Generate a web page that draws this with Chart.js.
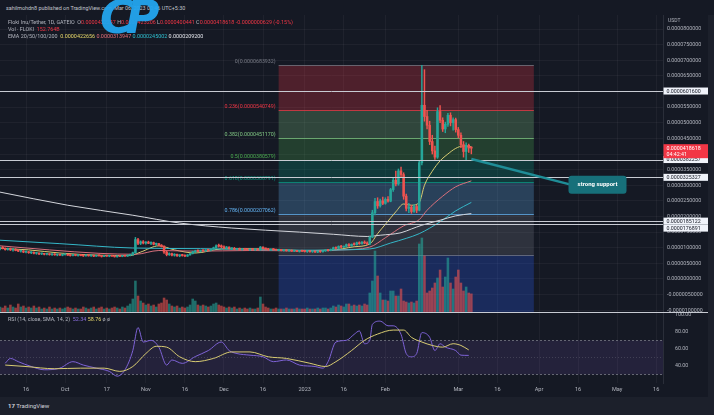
<!DOCTYPE html>
<html>
<head>
<meta charset="utf-8">
<script src="https://cdn.jsdelivr.net/npm/chart.js@4.4.0/dist/chart.umd.min.js"></script>
<style>
html, body { margin: 0; padding: 0; background: #151924; }
#wrap { position: relative; width: 714px; height: 415px; overflow: hidden; background: #151924; font-family: Roboto, "Noto Sans", sans-serif; }
#main { position: absolute; left: 0; top: 15px; }
#rsi { position: absolute; left: 0; top: 313px; }
.txt { position: absolute; white-space: nowrap; font-size: 5.4px; color: #b2b5be; line-height: 7px; }
.red { color: #f23645; }
.sep { position: absolute; left: 0; top: 312px; width: 714px; height: 1px; background: #c8cbd3; }
.foot { position: absolute; left: 0; top: 397px; width: 714px; height: 18px; background: #1c202b; }
.side { position: absolute; left: 708px; top: 15px; width: 6px; height: 382px; background: #1c202b; }
.logo { position: absolute; left: 100px; top: -10px; font: italic bold 46px "DejaVu Sans", sans-serif; color: #23a6f0; letter-spacing: -8px; opacity: 0.95; }
</style>
</head>
<body>
<div id="wrap">
  <canvas id="main" width="714" height="298"></canvas>
  <canvas id="rsi" width="714" height="84"></canvas>
  <div class="sep"></div>
  <div class="side"></div>
  <div class="foot"></div>

  <div class="txt" style="left:6px;top:5px;color:#c3c6ce">sahilmohdn8 published on TradingView.com, Mar 06, 2023 00:46 UTC+5:30</div>
  <div class="txt" style="left:8px;top:19px">Floki Inu/Tether, 1D, GATEIO&nbsp; O<span class="red">0.0000422247</span> H<span class="red">0.0000423206</span> L<span class="red">0.0000400441</span> C<span class="red">0.0000418618 -0.0000000629 (-0.15%)</span></div>
  <div class="txt" style="left:8px;top:26px">Vol · FLOKI&nbsp; <span class="red">152.764B</span></div>
  <div class="txt" style="left:8px;top:33px">EMA 20/50/100/200&nbsp; <span style="color:#e8d96a">0.0000422656</span> <span style="color:#e5707a">0.0000313947</span> <span style="color:#2fc0d0">0.0000245002</span> <span style="color:#e6e8ee">0.0000209200</span></div>
  <div class="logo">CP</div>
  <div class="txt" style="left:668px;top:17px;font-size:5px">USDT</div>
  <div class="txt" style="left:8px;top:316px">RSI (14, close, SMA, 14, 2)&nbsp; <span style="color:#8c6fe0">52.34</span> <span style="color:#e8d96a">58.76</span> ø ø</div>
  <div class="txt" style="left:8px;top:402px;font-size:6px;color:#d1d4dc"><b>17</b> TradingView</div>
</div>

<script>
// Days are counted from Sep 6 2022 (day 0), prices in millionths of USDT
const tickDays = [10, 25, 41, 56, 71, 86, 101, 117, 132, 148, 176, 191, 207, 222, 237, 252];
const tickLabels = ['16', 'Oct', '17', 'Nov', '16', 'Dec', '16', '2023', '16', 'Feb', 'Mar', '16', 'Apr', '16', 'May', '16'];

// daily candles [open, high, low, close], one per day from day 0
const ohlc = [
  [9.6,10.2,9.3,10.0],[10.0,10.4,9.6,9.8],[9.8,10.0,9.2,9.4],[9.4,9.9,9.2,9.7],[9.7,9.9,9.1,9.3],
  [9.3,9.6,8.9,9.5],[9.5,9.7,9.0,9.1],[9.1,9.4,8.7,8.9],[8.9,9.2,8.6,9.0],[9.0,9.1,8.4,8.6],
  [8.6,8.9,8.3,8.7],[8.7,8.8,8.2,8.4],[8.4,8.7,8.1,8.5],[8.5,8.7,8.0,8.2],[8.2,8.5,7.9,8.3],
  [8.3,8.4,7.8,8.0],[8.0,8.3,7.8,8.1],[8.1,8.2,7.7,7.9],[7.9,8.2,7.7,8.0],[8.0,8.1,7.6,7.8],
  [7.8,8.0,7.5,7.9],[7.9,8.1,7.6,7.7],[7.7,7.9,7.4,7.8],[7.8,8.0,7.5,7.6],[7.6,7.9,7.4,7.8],
  [7.8,8.0,7.6,7.9],[7.9,8.0,7.5,7.6],[7.6,7.8,7.3,7.5],[7.5,7.9,7.4,7.8],[7.8,7.9,7.4,7.5],
  [7.5,7.7,7.3,7.6],[7.6,7.8,7.4,7.5],[7.5,7.7,7.2,7.4],[7.4,7.8,7.3,7.7],[7.7,7.8,7.3,7.4],
  [7.4,7.6,7.2,7.5],[7.5,7.6,7.1,7.3],[7.3,7.6,7.2,7.5],[7.5,7.7,7.3,7.4],[7.4,7.5,7.0,7.2],
  [7.2,7.5,7.1,7.4],[7.4,7.6,7.2,7.3],[7.3,7.5,7.1,7.4],[7.4,7.6,7.2,7.3],[7.3,7.4,7.0,7.1],
  [7.1,7.4,7.0,7.3],[7.3,7.5,7.1,7.2],[7.2,7.5,7.1,7.4],[7.4,7.6,7.2,7.3],[7.3,7.7,7.2,7.6],
  [7.6,7.9,7.4,7.7],[7.7,8.6,7.6,8.4],[8.4,13.3,8.2,12.6],[12.6,13.0,11.0,11.4],[11.4,12.2,11.0,11.9],
  [11.9,12.3,11.2,11.5],[11.5,12.0,11.1,11.8],[11.8,12.1,11.3,11.4],[11.4,11.9,11.0,11.6],[11.6,11.8,10.9,11.1],
  [11.1,11.5,10.7,11.3],[11.3,11.4,10.6,10.8],[10.8,11.0,10.2,10.5],[10.5,10.6,8.2,8.6],[8.6,8.9,7.4,7.8],
  [7.8,8.4,7.5,8.1],[8.1,8.3,7.4,7.6],[7.6,8.1,7.3,7.9],[7.9,8.0,7.2,7.4],[7.4,7.8,7.1,7.6],
  [7.6,7.9,7.3,7.5],[7.5,7.7,7.1,7.3],[7.3,7.8,7.2,7.7],[7.7,8.2,7.6,8.1],[8.1,8.9,8.0,8.7],
  [8.7,9.2,8.4,9.0],[9.0,9.3,8.7,8.9],[8.9,9.2,8.6,9.1],[9.1,9.3,8.8,9.0],[9.0,9.4,8.8,9.3],
  [9.3,9.5,9.0,9.2],[9.2,9.6,9.0,9.5],[9.5,10.2,9.3,10.0],[10.0,10.9,9.8,10.6],[10.6,11.2,10.2,10.5],
  [10.5,10.9,10.0,10.3],[10.3,10.6,9.7,9.9],[9.9,10.4,9.6,10.2],[10.2,10.3,9.5,9.7],[9.7,10.0,9.4,9.8],
  [9.8,10.1,9.4,9.5],[9.5,9.8,9.3,9.6],[9.6,9.9,9.3,9.4],[9.4,9.7,9.2,9.6],[9.6,9.8,9.3,9.5],
  [9.5,9.7,9.2,9.3],[9.3,9.6,9.1,9.5],[9.5,9.7,9.2,9.4],[9.4,9.6,9.1,9.5],[9.5,9.7,9.2,9.3],
  [9.3,10.4,9.2,10.2],[10.2,10.3,9.5,9.7],[9.7,9.9,9.3,9.6],[9.6,9.8,9.2,9.3],[9.3,9.6,9.1,9.5],
  [9.5,9.7,9.2,9.4],[9.4,9.6,9.1,9.2],[9.2,9.5,9.0,9.4],[9.4,9.5,9.0,9.1],[9.1,9.4,8.9,9.3],
  [9.3,9.4,8.9,9.0],[9.0,9.3,8.8,9.2],[9.2,9.3,8.8,8.9],[8.9,9.2,8.7,9.1],[9.1,9.2,8.7,8.8],
  [8.8,9.1,8.6,9.0],[9.0,9.2,8.7,8.9],[8.9,9.1,8.6,8.8],[8.8,9.0,8.5,8.9],[8.9,9.1,8.6,8.7],
  [8.7,9.0,8.5,8.9],[8.9,9.0,8.5,8.6],[8.6,8.9,8.4,8.8],[8.8,9.0,8.5,8.7],[8.7,9.1,8.6,9.0],
  [9.0,9.3,8.8,9.2],[9.2,9.4,8.9,9.1],[9.1,9.6,9.0,9.5],[9.5,10.2,9.4,10.0],[10.0,10.3,9.6,9.8],
  [9.8,10.6,9.7,10.4],[10.4,10.8,10.0,10.2],[10.2,10.5,9.9,10.4],[10.4,11.2,10.2,11.0],[11.0,11.3,10.4,10.6],
  [10.6,11.2,10.4,11.1],[11.1,11.6,10.8,11.0],[11.0,11.8,10.8,11.6],[11.6,11.9,11.1,11.3],[11.3,12.0,11.1,11.8],
  [11.8,12.2,11.3,11.5],[11.5,11.9,11.0,11.2],[11.2,13.6,11.0,13.4],[13.4,22.0,13.2,21.2],[21.2,25.8,20.5,24.8],
  [24.8,26.0,22.6,23.4],[23.4,25.6,23.0,25.0],[25.0,26.2,23.8,24.2],[24.2,26.0,23.9,25.5],[25.5,26.4,24.6,24.9],
  [24.9,29.0,24.7,28.6],[28.6,32.5,28.0,31.6],[31.6,34.5,29.8,30.4],[30.4,35.2,30.0,34.6],[34.6,35.8,32.5,33.4],
  [33.4,34.0,25.5,26.5],[26.5,27.2,21.8,22.6],[22.6,24.2,21.2,23.0],[23.0,23.6,21.0,21.6],[21.6,23.8,21.3,23.2],
  [23.2,23.6,21.2,22.0],[22.0,37.8,21.8,37.2],[37.2,68.4,36.5,55.6],[55.6,67.0,50.5,52.0],[52.0,54.0,48.0,49.2],
  [49.2,50.5,43.0,44.0],[44.0,46.0,40.0,41.0],[41.0,42.5,38.3,39.0],[39.0,54.8,38.6,53.6],[53.6,55.5,50.0,50.8],
  [50.8,51.6,47.2,48.0],[48.0,50.2,46.8,49.5],[49.5,53.0,48.8,52.4],[52.4,53.2,49.0,50.0],[50.0,51.6,47.6,51.0],
  [51.0,51.5,47.0,47.8],[47.8,48.5,45.2,46.0],[46.0,46.8,42.0,43.0],[43.0,44.0,39.0,40.8],[40.8,43.6,38.0,42.8],
  [42.8,43.2,40.5,41.92],[42.22,42.32,40.04,41.86]
];

// volume per day, billions of FLOKI
const volume = [
  48,40,56,40,64,48,40,72,48,56, 40,48,40,56,40,48,32,40,32,48,
  32,40,32,40,32,40,48,40,32,40, 32,32,48,40,32,40,48,32,40,48,
  32,40,32,40,48,40,32,48,40,56, 72,112,256,136,96,80,64,72,56,64,
  48,72,80,120,104,72,56,48,56,40, 48,40,48,64,112,96,64,56,64,56,
  48,56,72,80,64,56,48,40,48,40, 48,32,40,32,40,32,40,32,32,40,
  128,72,48,40,32,32,40,32,32,32, 40,32,32,32,40,32,32,32,40,32,
  32,32,40,32,40,40,32,40,56,48, 64,56,48,72,72,56,64,56,64,56,
  72,64,160,256,496,296,160,104,104,96, 176,176,136,136,192,96,88,80,88,80,
  96,552,600,456,160,176,200,240,280,344, 208,288,440,240,192,288,344,240,176,208,
  160,153
];

const ema20Days = [0, 11, 23, 38, 50, 54, 61, 67, 75, 85, 94, 104, 115, 127, 136, 142, 145, 148, 152, 155, 158, 161, 163, 166, 169, 172, 175, 178, 181];
const ema20 = [9.8, 9.3, 8.3, 7.6, 7.5, 8.6, 10.6, 9.3, 8.3, 9.6, 9.7, 9.5, 9.1, 9.2, 10.3, 11.2, 14.5, 17.5, 21.5, 24.0, 23.6, 24.5, 30.0, 34.5, 37.8, 40.0, 41.8, 42.6, 42.27];
const ema50Days = [0, 19, 38, 52, 61, 75, 96, 115, 131, 142, 148, 155, 161, 164, 170, 175, 181];
const ema50 = [10.6, 9.3, 8.2, 7.9, 9.1, 8.9, 9.1, 9.0, 9.3, 10.2, 13.2, 17.0, 19.0, 22.0, 26.5, 29.5, 31.4];
const ema100Days = [0, 23, 51, 77, 115, 142, 150, 156, 161, 169, 175, 181];
const ema100 = [12.4, 11.3, 9.9, 9.7, 9.2, 9.6, 11.5, 13.0, 14.5, 18.3, 21.8, 24.5];
const ema200Days = [0, 26, 51, 69, 89, 115, 128, 141, 146, 154, 158, 162, 169, 175, 181];
const ema200 = [27.8, 23.6, 20.4, 17.9, 16.3, 15.0, 14.3, 13.6, 14.0, 14.8, 16.0, 17.2, 18.8, 20.2, 20.92];

const rsiDays = [2, 4, 7, 12, 17, 23, 28, 32, 37, 42, 45, 48, 51, 53, 55, 58, 61, 64, 66, 70, 75, 80, 85, 88, 91, 96, 101, 105, 110, 115, 121, 124, 126, 129, 133, 136, 138, 140, 142, 143, 146, 149, 151, 154, 156, 158, 160, 162, 165, 167, 169, 171, 175, 177, 180];
const rsi = [43.1, 48.8, 45, 39.3, 35.5, 37.4, 45, 41, 37.4, 33.6, 28, 35.5, 58, 85, 68, 70, 62, 41, 47, 43, 51, 58, 68, 58, 54.5, 52.6, 50.7, 45, 47, 41, 39.3, 37.4, 45, 68, 70, 77, 81, 66, 70, 88.7, 92.5, 87, 87, 77, 54.5, 50.7, 54.5, 79, 73.5, 58, 66, 62, 58, 52.6, 52.34];
const rsiSmaDays = [2, 10, 21, 31, 40, 46, 51, 56, 60, 64, 69, 75, 82, 89, 96, 103, 110, 119, 125, 129, 135, 140, 145, 151, 155, 158, 162, 166, 170, 174, 177, 180];
const rsiSma = [41, 39.3, 36.7, 37.4, 37.4, 33.6, 39.3, 54.5, 63, 62, 50.7, 45, 48.8, 56.4, 56.4, 50.7, 48.8, 43.1, 39.3, 45, 58, 70, 77.3, 82, 82, 73.5, 68, 64, 62, 66, 64, 58.76];

// Fibonacci retracement drawn from day 107 to day 205
const fibLevels = [0, 0.236, 0.382, 0.5, 0.618, 0.786, 1, 1.618];
const fibPrices = [68.3932, 54.0749, 45.1170, 38.0579, 30.8791, 20.7062, 7.6900, -29.5];
const fibColors = ['#787b86', '#f23645', '#81c784', '#4caf50', '#089981', '#64b5f6', '#787b86', '#2962ff'];
const fibSpan = [107, 205];

// horizontal support/resistance lines
const priceLines = [60.16, 38.2257, 32.5327, 18.5122, 17.6891];
const lastPrice = 41.8618;
const supportLine = [[181, 38.4], [221, 29.8]];

const FONT = 'Roboto, "Noto Sans", sans-serif';
const UP = '#26a69a', DOWN = '#ef5350';
const GRID = 'rgba(255,255,255,0.045)';
const X_MAX = 254.6;

const fmt = v => (v * 1e-6).toFixed(10);

function alpha(hex, a) {
    const n = parseInt(hex.slice(1), 16);
    return `rgba(${n >> 16},${(n >> 8) & 255},${n & 255},${a})`;
}

const points = (days, vals) => days.map((d, i) => ({ x: d, y: vals[i] }));

// Fibonacci bands and labels, behind the candles
const fibPlugin = {
    id: 'fib',
    beforeDatasetsDraw(chart) {
        const { ctx, chartArea: a, scales: { x, y } } = chart;
        const x0 = x.getPixelForValue(fibSpan[0]);
        const x1 = x.getPixelForValue(fibSpan[1]);
        ctx.save();
        ctx.beginPath();
        ctx.rect(a.left, a.top, a.width, a.height);
        ctx.clip();
        for (let i = 1; i < fibLevels.length; i++) {
            const ya = y.getPixelForValue(fibPrices[i - 1]);
            const yb = y.getPixelForValue(fibPrices[i]);
            ctx.fillStyle = alpha(fibColors[i], 0.26);
            ctx.fillRect(x0, ya, x1 - x0, yb - ya);
        }
        ctx.font = `5.3px ${FONT}`;
        ctx.textAlign = 'right';
        ctx.textBaseline = 'bottom';
        fibLevels.forEach((lv, i) => {
            const yy = Math.round(y.getPixelForValue(fibPrices[i])) + 0.5;
            ctx.strokeStyle = alpha(fibColors[i], 0.75);
            ctx.lineWidth = 1;
            ctx.beginPath();
            ctx.moveTo(x0, yy);
            ctx.lineTo(x1, yy);
            ctx.stroke();
            if (i < 6) {
                ctx.fillStyle = fibColors[i];
                ctx.fillText(`${lv}(${fmt(fibPrices[i])})`, x0 - 3, yy - 1.5);
            }
        });
        ctx.restore();
    }
};

// horizontal lines and the "strong support" callout, over the candles
const linesPlugin = {
    id: 'lines',
    afterDatasetsDraw(chart) {
        const { ctx, chartArea: a, scales: { x, y } } = chart;
        ctx.save();
        ctx.strokeStyle = '#c8cbd3';
        ctx.lineWidth = 1;
        priceLines.forEach(p => {
            const yy = Math.round(y.getPixelForValue(p)) + 0.5;
            ctx.beginPath();
            ctx.moveTo(a.left, yy);
            ctx.lineTo(a.right, yy);
            ctx.stroke();
        });
        const [p0, p1] = supportLine;
        const sx0 = x.getPixelForValue(p0[0]), sy0 = y.getPixelForValue(p0[1]);
        const sx1 = x.getPixelForValue(p1[0]), sy1 = y.getPixelForValue(p1[1]);
        ctx.strokeStyle = '#1f8d97';
        ctx.lineWidth = 2.4;
        ctx.beginPath();
        ctx.moveTo(sx0, sy0);
        ctx.lineTo(sx1, sy1);
        ctx.stroke();
        const bw = 58, bh = 18;
        const bx = sx1 - 7, by = sy1 - bh / 2 - 1;
        ctx.fillStyle = '#17707a';
        ctx.beginPath();
        ctx.roundRect(bx, by, bw, bh, 3);
        ctx.fill();
        ctx.fillStyle = '#ffffff';
        ctx.font = `bold 6px ${FONT}`;
        ctx.textAlign = 'center';
        ctx.textBaseline = 'middle';
        ctx.fillText('strong support', bx + bw / 2, by + bh / 2);
        ctx.restore();
    }
};

// price tags on the right axis
const tagsPlugin = {
    id: 'tags',
    afterDraw(chart) {
        const { ctx, chartArea: a, scales: { y } } = chart;
        const left = a.right + 0.5, w = 45;
        ctx.save();
        ctx.font = `5.3px ${FONT}`;
        ctx.textBaseline = 'middle';
        ctx.textAlign = 'left';
        let prevBottom = -99;
        priceLines.forEach(p => {
            let cy = y.getPixelForValue(p);
            if (cy - 3.5 < prevBottom) cy = prevBottom + 3.5;
            prevBottom = cy + 3.5;
            ctx.fillStyle = '#f0f3fa';
            ctx.fillRect(left, cy - 3.5, w, 7);
            ctx.fillStyle = '#131722';
            ctx.fillText(fmt(p), left + 3, cy + 0.3);
        });
        const ly = y.getPixelForValue(lastPrice);
        ctx.fillStyle = '#f23645';
        ctx.fillRect(left, ly - 4, w, 14);
        ctx.fillStyle = '#ffffff';
        ctx.fillText(fmt(lastPrice), left + 3, ly);
        ctx.fillText('04:42:41', left + 3, ly + 6);
        ctx.restore();
    }
};

const rsiPlugin = {
    id: 'rsiBand',
    beforeDatasetsDraw(chart) {
        const { ctx, chartArea: a, scales: { y } } = chart;
        const y70 = y.getPixelForValue(70), y30 = y.getPixelForValue(30), y50 = y.getPixelForValue(50);
        ctx.save();
        ctx.fillStyle = 'rgba(126,87,194,0.15)';
        ctx.fillRect(a.left, y70, a.width, y30 - y70);
        ctx.strokeStyle = 'rgba(120,123,134,0.8)';
        ctx.lineWidth = 1;
        ctx.setLineDash([2, 2]);
        [y70, y30].forEach(yy => {
            ctx.beginPath();
            ctx.moveTo(a.left, Math.round(yy) + 0.5);
            ctx.lineTo(a.right, Math.round(yy) + 0.5);
            ctx.stroke();
        });
        ctx.strokeStyle = 'rgba(120,123,134,0.35)';
        ctx.setLineDash([1, 2]);
        ctx.beginPath();
        ctx.moveTo(a.left, Math.round(y50) + 0.5);
        ctx.lineTo(a.right, Math.round(y50) + 0.5);
        ctx.stroke();
        ctx.restore();
    }
};

function lineSet(days, vals, color, axis) {
    return {
        type: 'line',
        data: points(days, vals),
        borderColor: color,
        borderWidth: 1,
        pointRadius: 0,
        cubicInterpolationMode: 'monotone',
        yAxisID: axis || 'y',
        order: 3
    };
}

const xScale = (showLabels) => ({
    type: 'linear',
    min: 0,
    max: X_MAX,
    offset: false,
    grid: { color: GRID, drawTicks: false, offset: false },
    border: { display: false },
    ticks: {
        display: showLabels,
        autoSkip: false,
        maxRotation: 0,
        padding: 3,
        color: '#b2b5be',
        font: { size: 5.6, family: FONT },
        callback: (v) => tickLabels[tickDays.indexOf(v)]
    },
    afterBuildTicks: s => { s.ticks = tickDays.map(v => ({ value: v })); },
    afterFit: s => {
        s.height = showLabels ? 14 : 0;
        s.paddingLeft = 0;
        s.paddingRight = 0;
    }
});

function initMain() {
    const ctx = document.getElementById('main').getContext('2d');
    new Chart(ctx, {
        type: 'bar',
        data: {
            datasets: [
                {
                    data: volume.map((v, i) => ({ x: i, y: v })),
                    backgroundColor: ohlc.map(r => alpha(r[3] >= r[0] ? UP : DOWN, 0.6)),
                    barThickness: 1.9,
                    grouped: false,
                    yAxisID: 'yVol',
                    order: 10
                },
                lineSet(ema200Days, ema200, '#d4d6dc'),
                lineSet(ema100Days, ema100, '#35b7c8'),
                lineSet(ema50Days, ema50, '#d9707c'),
                lineSet(ema20Days, ema20, '#d8cc72'),
                {
                    data: ohlc.map((r, i) => ({ x: i, y: [r[2], r[1]] })),
                    backgroundColor: ohlc.map(r => r[3] >= r[0] ? UP : DOWN),
                    barThickness: 0.8,
                    grouped: false,
                    order: 2
                },
                {
                    data: ohlc.map((r, i) => ({ x: i, y: [r[0], r[3]] })),
                    backgroundColor: ohlc.map(r => r[3] >= r[0] ? UP : DOWN),
                    barThickness: 1.9,
                    minBarLength: 1,
                    grouped: false,
                    order: 1
                }
            ]
        },
        options: {
            responsive: false,
            animation: false,
            events: [],
            layout: { padding: 0 },
            plugins: { legend: { display: false }, tooltip: { enabled: false } },
            scales: {
                x: xScale(false),
                y: {
                    position: 'right',
                    min: -10.9,
                    max: 84.5,
                    grid: { color: GRID, drawTicks: false },
                    border: { display: true, color: '#2a2e39' },
                    ticks: {
                        stepSize: 5,
                        includeBounds: false,
                        padding: 4,
                        color: '#b2b5be',
                        font: { size: 5.3, family: FONT },
                        callback: v => fmt(v)
                    },
                    afterFit: s => { s.width = 51; s.paddingTop = 0; s.paddingBottom = 0; }
                },
                yVol: { display: false, min: 0, max: 2384 }
            }
        },
        plugins: [fibPlugin, linesPlugin, tagsPlugin]
    });
}

function initRsi() {
    const ctx = document.getElementById('rsi').getContext('2d');
    new Chart(ctx, {
        type: 'line',
        data: {
            datasets: [
                lineSet(rsiSmaDays, rsiSma, '#d8cc72'),
                lineSet(rsiDays, rsi, '#7e63d6')
            ]
        },
        options: {
            responsive: false,
            animation: false,
            events: [],
            layout: { padding: 0 },
            plugins: { legend: { display: false }, tooltip: { enabled: false } },
            scales: {
                x: xScale(true),
                y: {
                    position: 'right',
                    min: 20,
                    max: 102,
                    grid: { display: false },
                    border: { display: true, color: '#2a2e39' },
                    ticks: {
                        padding: 4,
                        color: '#b2b5be',
                        font: { size: 5.3, family: FONT },
                        callback: v => v.toFixed(2)
                    },
                    afterBuildTicks: s => { s.ticks = [40, 60, 80, 100].map(v => ({ value: v })); },
                    afterFit: s => { s.width = 51; s.paddingTop = 0; s.paddingBottom = 0; }
                }
            }
        },
        plugins: [rsiPlugin]
    });
}

initMain();
initRsi();
</script>
</body>
</html>
